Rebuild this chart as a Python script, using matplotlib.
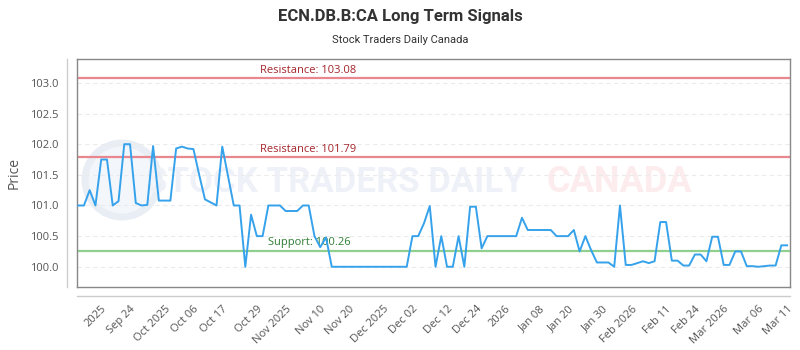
import matplotlib
matplotlib.use("Agg")
import matplotlib.pyplot as plt
from matplotlib.lines import Line2D
from matplotlib.patches import Circle

plt.rcParams['font.family'] = ['Open Sans', 'DejaVu Sans']

# price series (one value per trading day)
prices = [
    101.0, 101.0, 101.25, 101.0, 101.75, 101.75, 101.0, 101.07, 102.0, 102.0,
    101.04, 101.0, 101.01, 101.97, 101.08, 101.08, 101.08, 101.93, 101.96, 101.93,
    101.92, 101.5, 101.1, 101.05, 101.0, 101.96, 101.48, 101.0, 101.0, 100.0,
    100.85, 100.5, 100.5, 101.0, 101.0, 101.0, 100.91, 100.91, 100.91, 101.0,
    101.0, 100.5, 100.32, 100.48, 100.0, 100.0, 100.0, 100.0, 100.0, 100.0,
    100.0, 100.0, 100.0, 100.0, 100.0, 100.0, 100.0, 100.0, 100.5, 100.5,
    100.71, 100.99, 100.0, 100.5, 100.0, 100.0, 100.5, 100.0, 100.98, 100.98,
    100.3, 100.5, 100.5, 100.5, 100.5, 100.5, 100.5, 100.8, 100.6, 100.6,
    100.6, 100.6, 100.6, 100.5, 100.5, 100.5, 100.6, 100.25, 100.5, 100.27,
    100.07, 100.07, 100.07, 100.0, 101.0, 100.03, 100.03, 100.06, 100.09, 100.06,
    100.09, 100.73, 100.73, 100.1, 100.1, 100.02, 100.02, 100.2, 100.2, 100.09,
    100.49, 100.49, 100.03, 100.03, 100.25, 100.25, 100.01, 100.01, 100.0, 100.01,
    100.02, 100.02, 100.35, 100.35,
]

tick_idx = [4, 9, 15, 20, 25, 31, 36, 42, 47, 53, 58, 64, 69, 74, 80, 85, 91, 96,
            102, 107, 112, 118, 123]
tick_labels = ["2025", "Sep 24", "Oct 2025", "Oct 06", "Oct 17", "Oct 29", "Nov 2025",
               "Nov 10", "Nov 20", "Dec 2025", "Dec 02", "Dec 12", "Dec 24", "2026",
               "Jan 08", "Jan 20", "Jan 30", "Feb 2026", "Feb 11", "Feb 24", "Mar 2026",
               "Mar 06", "Mar 11"]

resistance = [103.08, 101.79]
support = [100.26]

fig = plt.figure(figsize=(8, 3.5), dpi=100)
ax = fig.add_axes([0.09625, 0.18, 0.89125, 0.6514])

x = list(range(len(prices)))

# watermark (behind the axes)
fig.add_artist(Circle((1.22, 1.70), 0.37, transform=fig.dpi_scale_trans,
                      facecolor="#f3f6fa", edgecolor="#e9eef5", lw=5, zorder=-2))
fig.text(0.182, 1 - 182 / 350, "STOCK TRADERS DAILY", fontsize=25, color="#eef2f8",
         family="Roboto", fontweight="bold", va="center", ha="left", zorder=-1)
fig.text(0.683, 1 - 182 / 350, "CANADA", fontsize=26, color="#fdeced",
         family="Roboto", fontweight="bold", va="center", ha="left", zorder=-1)
ax.set_facecolor("none")

for r in resistance:
    ax.axhline(r, color="#e8888e", lw=1.6, zorder=2)
    ax.text(31.5, r + 0.04, f"Resistance: {r:.2f}", color="#a4262c", fontsize=8,
            va="bottom", ha="left")
for s in support:
    ax.axhline(s, color="#8fd08f", lw=1.6, zorder=2)
    ax.text(33, s + 0.04, f"Support: {s:.2f}", color="#2e7d32", fontsize=8,
            va="bottom", ha="left")

ax.plot(x, prices, color="#36a2eb", lw=1.4, zorder=3)

ax.set_xlim(-0.2, len(prices) - 0.5)
ax.set_ylim(99.67, 103.39)
ax.set_yticks([100.0, 100.5, 101.0, 101.5, 102.0, 102.5, 103.0])
ax.set_yticklabels([f"{v:.1f}" for v in ax.get_yticks()])
ax.grid(axis="y", color="#ebebeb", ls=(0, (4, 3)), lw=0.8)
ax.set_xticks(tick_idx)
ax.set_xticklabels(tick_labels, rotation=45, ha="right", rotation_mode="anchor")
ax.tick_params(axis="both", length=0, labelsize=8, colors="#555555")
ax.tick_params(axis="x", pad=12)
ax.tick_params(axis="y", pad=13)
for sp in ax.spines.values():
    sp.set_color("#888888")
    sp.set_linewidth(1)
ax.set_ylabel("Price", fontsize=10, color="#555555", labelpad=6)

# offset axis lines
fig.add_artist(Line2D([67 / 800, 67 / 800], [1 - 287 / 350, 1 - 59 / 350],
                      color="#cccccc", lw=1, transform=fig.transFigure))
fig.add_artist(Line2D([77 / 800, 790 / 800], [1 - 296 / 350, 1 - 296 / 350],
                      color="#cccccc", lw=1, transform=fig.transFigure))

fig.text(0.5, 1 - 16 / 350, "ECN.DB.B:CA Long Term Signals", ha="center", va="center",
         fontsize=12, fontweight="bold", color="#333333", family="Roboto")
fig.text(0.5, 1 - 40 / 350, "Stock Traders Daily Canada", ha="center", va="center",
         fontsize=8, color="#333333", family="Roboto")

fig.savefig("out.png", dpi=100)
